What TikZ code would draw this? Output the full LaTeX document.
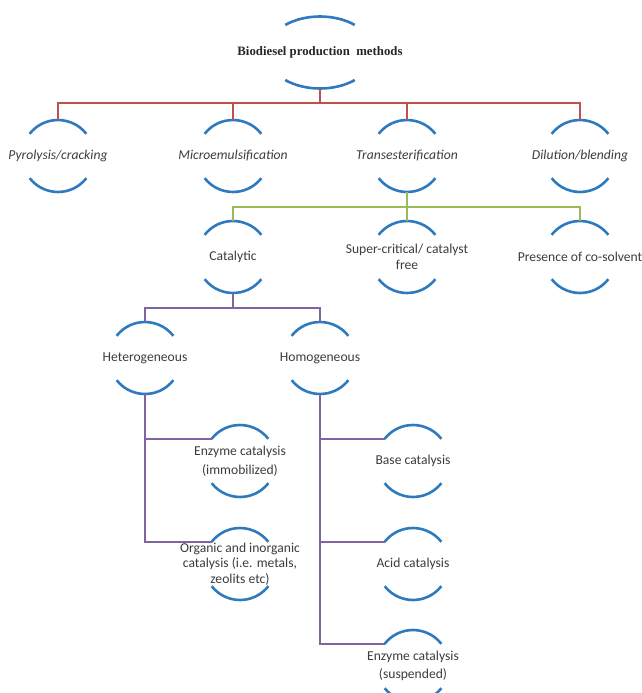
\documentclass[tikz,border=0pt]{standalone}
\usepackage{fontspec}
\setmainfont{Carlito}
\newfontfamily\titlefont{Liberation Serif}
\usepackage{tikz}
\definecolor{arcblue}{RGB}{46,122,190}
\definecolor{linkred}{RGB}{192,80,77}
\definecolor{linkgreen}{RGB}{155,187,89}
\definecolor{linkviolet}{RGB}{128,100,162}
\definecolor{labelink}{RGB}{60,60,60}
\newcommand{\methodsize}{\fontsize{13.6}{15.5}\selectfont}
\tikzset{
  methodnode/.style={rectangle, minimum width=72pt, minimum height=72pt,
    inner sep=0pt, outer sep=0pt, align=center, text=labelink,
    font=\methodsize},
  methoditalic/.style={methodnode, font=\methodsize\itshape},
  rootnode/.style={methodnode, text=black!85,
    font=\titlefont\bfseries\fontsize{12.8}{14}\selectfont},
  arcline/.style={draw=arcblue, line width=2.6pt},
  redlink/.style={draw=linkred, line width=2.6pt},
  greenlink/.style={draw=linkgreen, line width=2.6pt},
  violetlink/.style={draw=linkviolet, line width=2.6pt},
}

\begin{document}
\begin{tikzpicture}[x=1pt,y=1pt]
  \useasboundingbox (0,0) rectangle (641,-693);
  \clip (0,0) rectangle (641,-693);
  \node[rootnode] (root) at (320,-52.5) {Biodiesel production\ \ methods};
  \node[methoditalic] (pyro) at (58,-156) {Pyrolysis/cracking};
  \node[methoditalic] (micro) at (233,-156) {Microemulsification};
  \node[methoditalic] (trans) at (407,-156) {Transesterification};
  \node[methoditalic] (dilu) at (580,-156) {Dilution/blending};
  \node[methodnode] (cata) at (233,-257) {Catalytic};
  \node[methodnode] (super) at (407,-257) {Super-critical/ catalyst\\free};
  \node[methodnode] (cosolv) at (580,-257) {Presence of co-solvent};
  \node[methodnode] (hetero) at (145,-358) {Heterogeneous};
  \node[methodnode] (homo) at (320,-358) {Homogeneous};
  \node[methodnode] (enzimm) at (240,-461) {Enzyme catalysis\\[4pt](immobilized)};
  \node[methodnode] (organic) at (240,-564) {Organic and inorganic\\catalysis (i.e. metals,\\zeolits etc)};
  \node[methodnode] (base) at (413,-461) {Base catalysis};
  \node[methodnode] (acid) at (413,-564) {Acid catalysis};
  \node[methodnode] (enzsus) at (413,-666) {Enzyme catalysis\\[2pt](suspended)};

  \draw[arcline] ([shift={(50:54pt and 36pt)}]root.center)
    arc[start angle=50, end angle=130, x radius=54pt, y radius=36pt];
  \draw[arcline] ([shift={(230:54pt and 36pt)}]root.center)
    arc[start angle=230, end angle=310, x radius=54pt, y radius=36pt];
  \foreach \n in {pyro,micro,trans,dilu,cata,super,cosolv,hetero,homo,
                  enzimm,organic,base,acid,enzsus} {
    \draw[arcline] ([shift={(38:36pt)}]\n.center)
      arc[start angle=38, end angle=142, radius=36pt];
    \draw[arcline] ([shift={(218:36pt)}]\n.center)
      arc[start angle=218, end angle=322, radius=36pt];
  }

  \draw[redlink] (root.south) -- ++(0,-14.5) coordinate (redbus);
  \foreach \n in {pyro,micro,trans,dilu}
    \draw[redlink] (redbus) -| (\n.north);
  \draw[greenlink] (trans.south) -- ++(0,-15) coordinate (greenbus);
  \foreach \n in {cata,super,cosolv}
    \draw[greenlink] (greenbus) -| (\n.north);
  \draw[violetlink] (cata.south) -- ++(0,-15) coordinate (violetbus);
  \foreach \n in {hetero,homo}
    \draw[violetlink] (violetbus) -| (\n.north);
  \foreach \n in {enzimm,organic}
    \draw[violetlink] (hetero.south) |- ([shift={(142:36pt)}]\n.center);
  \foreach \n in {base,acid,enzsus}
    \draw[violetlink] (homo.south) |- ([shift={(142:36pt)}]\n.center);
\end{tikzpicture}
\end{document}
